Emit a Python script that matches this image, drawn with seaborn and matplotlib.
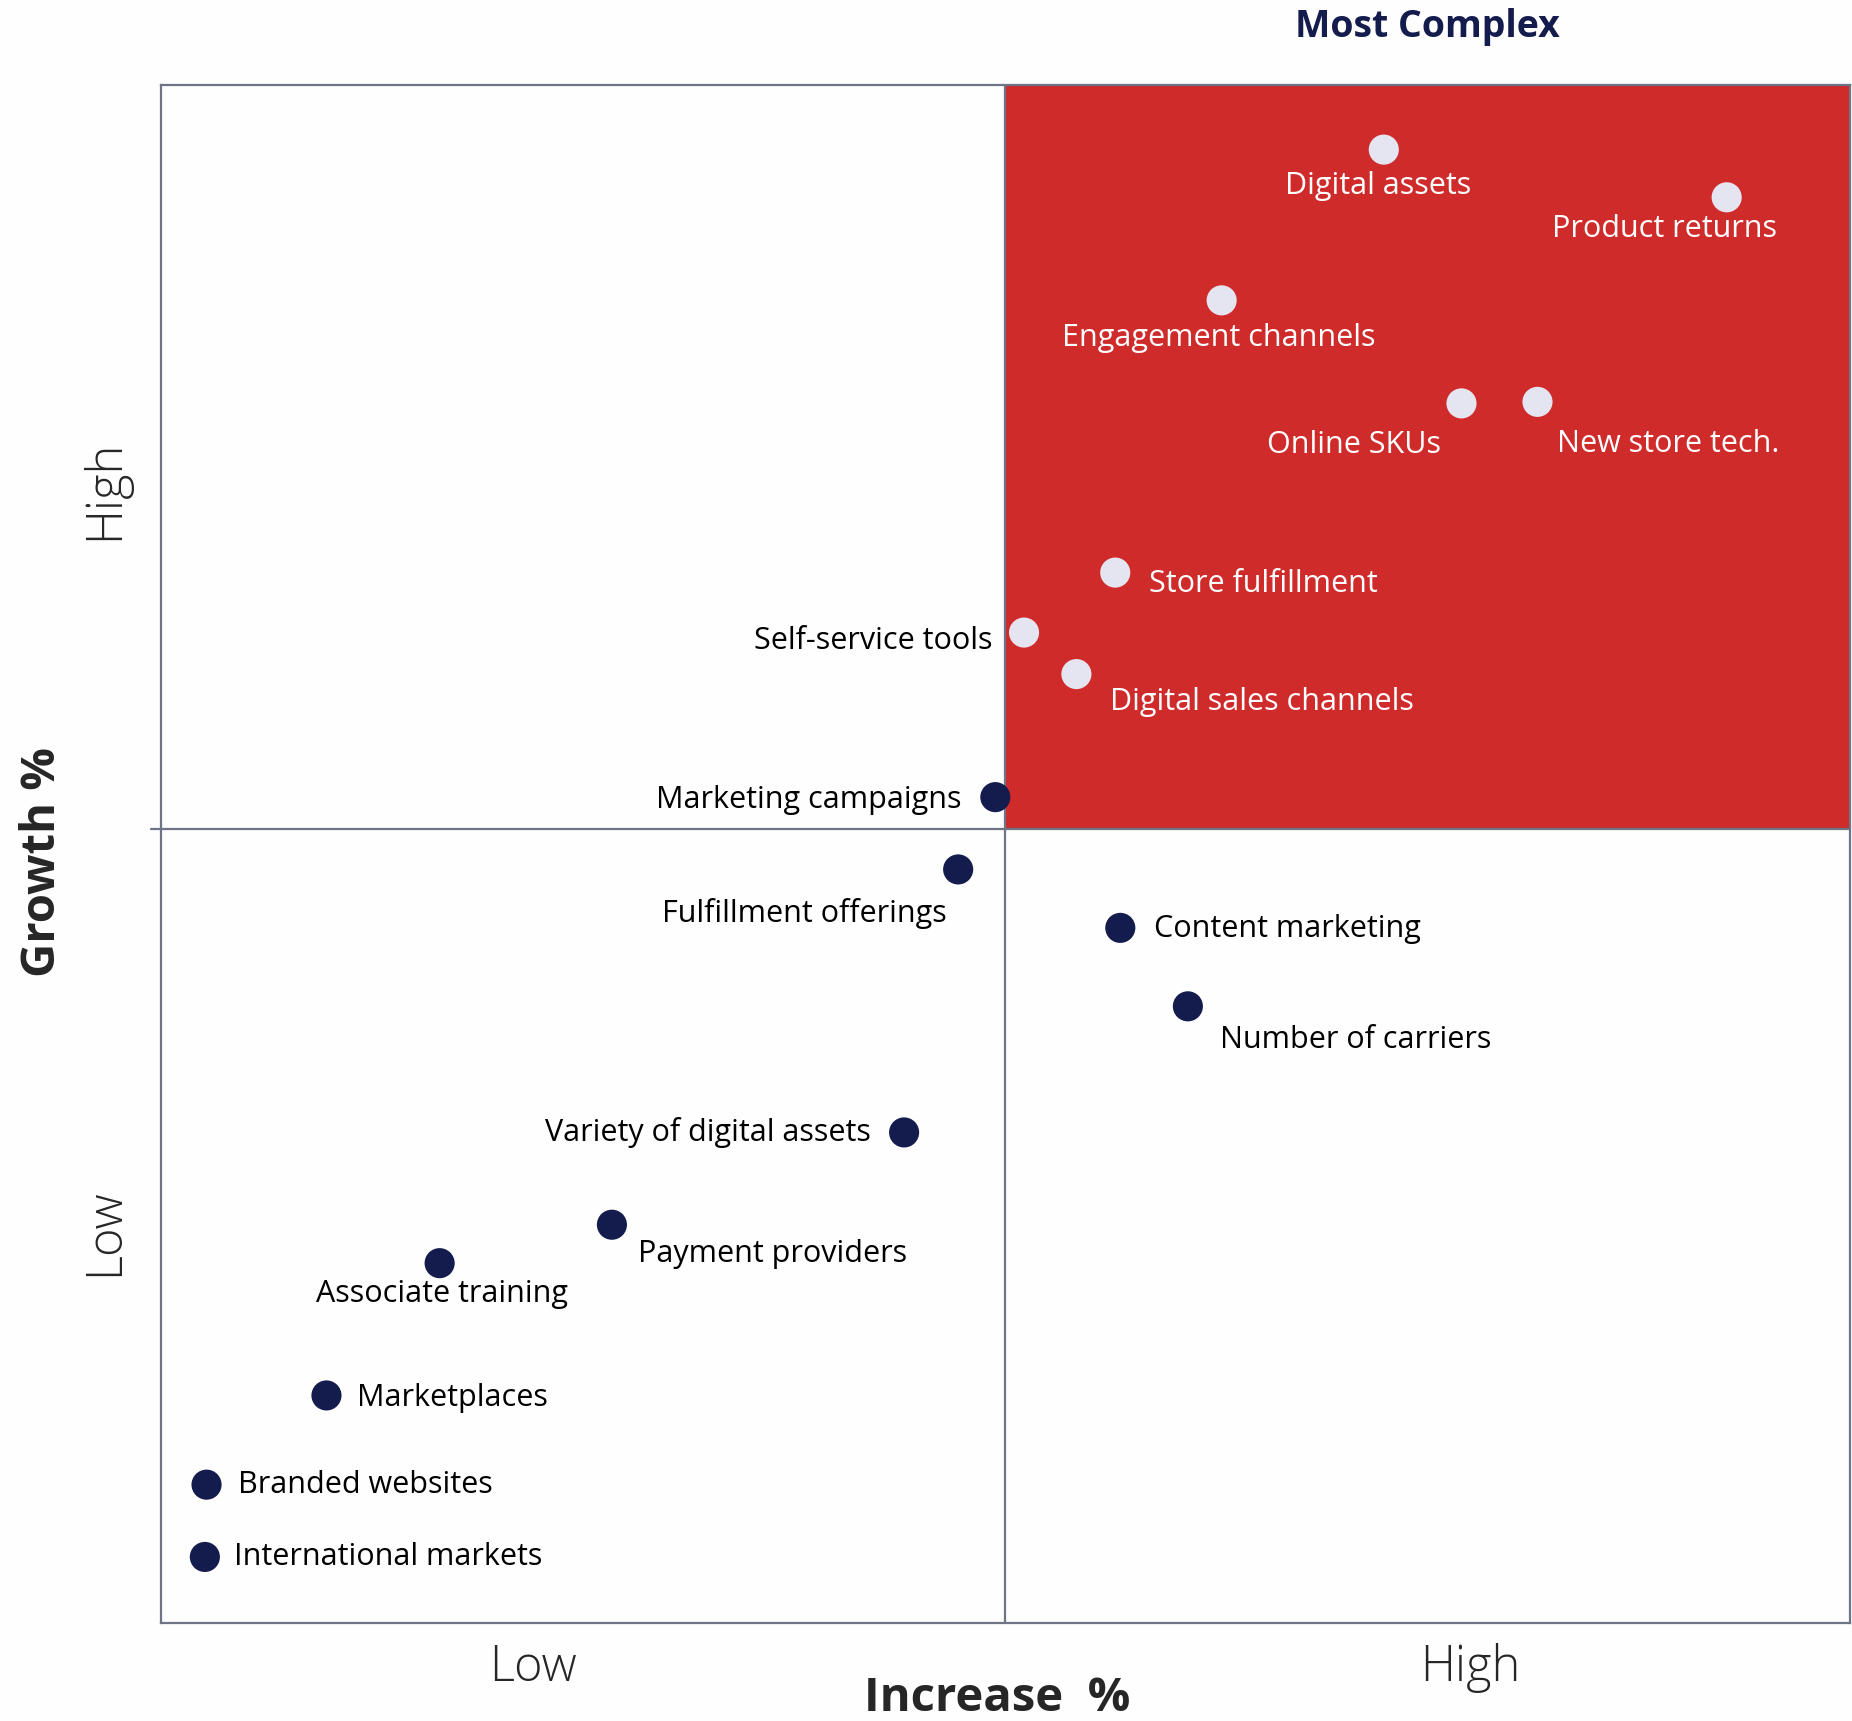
import pandas as pd
import matplotlib.pyplot as plt
import seaborn as sns

# Punkti-data (x = Increase %, y = Growth %)
names = ['Digital assets', 'Product returns', 'Engagement channels', 'Online SKUs',
         'New store tech.', 'Store fulfillment', 'Self-service tools',
         'Digital sales channels', 'Marketing campaigns', 'Fulfillment offerings',
         'Content marketing', 'Number of carriers', 'Variety of digital assets',
         'Payment providers', 'Associate training', 'Marketplaces',
         'Branded websites', 'International markets']
increase = [72.4, 92.7, 62.8, 77.0, 81.5, 56.5, 51.1, 54.2, 49.4, 47.2,
            56.8, 60.8, 44.0, 26.7, 16.5, 9.8, 2.7, 2.6]
growth = [95.8, 92.7, 86.0, 79.3, 79.4, 68.3, 64.4, 61.7, 53.7, 49.0,
          45.2, 40.1, 31.9, 25.9, 23.4, 14.8, 9.0, 4.3]

# label offsets (points) and alignment
offsets = [(-4, -26, 'center'), (-45, -23, 'center'), (-2, -27, 'center'),
           (-15, -30, 'right'), (14, -30, 'left'), (24, -8, 'left'),
           (-23, -6, 'right'), (24, -20, 'left'), (-24, -2, 'right'),
           (-8, -32, 'right'), (24, -1, 'left'), (23, -24, 'left'),
           (-24, 0, 'right'), (19, -21, 'left'), (2, -22, 'center'),
           (22, -2, 'left'), (23, 0, 'left'), (21, 0, 'left')]
# tekstit punaisella alueella valkoisella
label_white = [True, True, True, True, True, True, False, True, False, False,
               False, False, False, False, False, False, False, False]

x_mid = 50
y_mid = 51.6

df = pd.DataFrame({'name': names, 'x': increase, 'y': growth})
df['group'] = ['complex' if (a > x_mid and b > y_mid) else 'other'
               for a, b in zip(df['x'], df['y'])]

red = '#D02B2B'
navy = '#141C4E'
light = '#E4E5F0'
grey = '#6E7385'

sns.set_style('white')
plt.rcParams['font.family'] = ['Open Sans', 'DejaVu Sans']

fig = plt.figure(figsize=(18.52, 17.21), dpi=100, facecolor='#FDFEFD')
ax = fig.add_axes([0.0869, 0.0569, 0.912, 0.8937])
ax.set_facecolor('#FDFEFD')
ax.set_xlim(0, 100)
ax.set_ylim(0, 100)

ax.fill_between([x_mid, 100], y_mid, 100, color=red, lw=0, zorder=0)
ax.axvline(x_mid, color=grey, lw=1.6, zorder=1)
ax.axhline(y_mid, xmin=-0.006, xmax=1, color=grey, lw=1.6, zorder=1, clip_on=False)

sns.scatterplot(data=df, x='x', y='y', hue='group',
                palette={'complex': light, 'other': navy},
                s=470, edgecolor='none', legend=False, ax=ax, zorder=3)

for nm, a, b, (dx, dy, ha), w in zip(df['name'], df['x'], df['y'], offsets, label_white):
    ax.annotate(nm, (a, b), xytext=(dx, dy), textcoords='offset points',
                ha=ha, va='center', fontsize=22,
                color='white' if w else 'black', zorder=4)

for s in ax.spines.values():
    s.set_color(grey)
    s.set_linewidth(1.6)

ax.set_xticks([22, 77.5])
ax.set_xticklabels(['Low', 'High'], fontsize=35, fontweight='light')
ax.set_yticks([25.4, 73.7])
ax.set_yticklabels(['Low', 'High'], fontsize=35, fontweight='light',
                   rotation=90, va='center')
ax.tick_params(axis='x', length=0, pad=14)
ax.tick_params(axis='y', length=0, pad=22)

ax.set_xlabel('Increase  %', fontsize=34, fontweight='bold')
ax.xaxis.set_label_coords(0.495, -0.034)
ax.set_ylabel('Growth %', fontsize=34, fontweight='bold')
ax.yaxis.set_label_coords(-0.056, 0.495)

ax.text(75, 1.038, 'Most Complex', transform=ax.get_xaxis_transform(),
        ha='center', va='center', fontsize=27, fontweight='bold', color=navy)

fig.savefig('out.png', dpi=100, facecolor=fig.get_facecolor())
